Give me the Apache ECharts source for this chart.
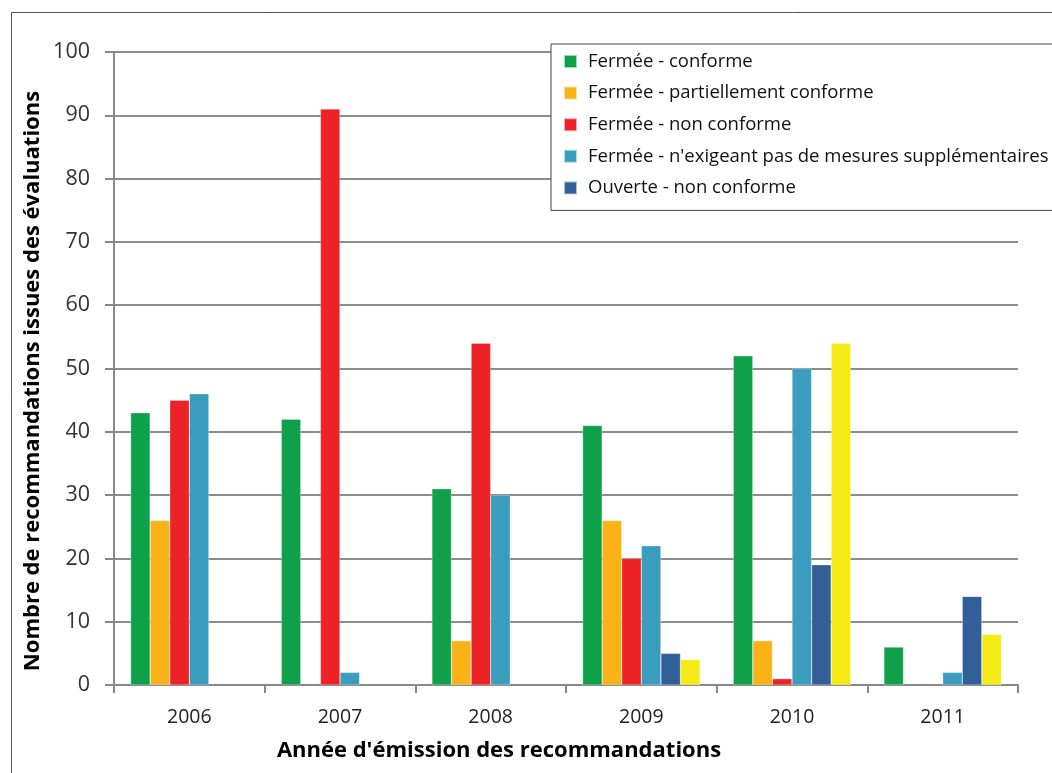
<!DOCTYPE html>
<html>
<head>
<meta charset="utf-8">
<script src="https://cdn.jsdelivr.net/npm/echarts@6/dist/echarts.min.js"></script>
<style>
  html, body { margin: 0; padding: 0; background: #fff; }
  #chart { width: 1052px; height: 773px; }
</style>
</head>
<body>
<div id="chart"></div>
<script>
// Recommendations issued per year, by follow-up status
const years = ['2006', '2007', '2008', '2009', '2010', '2011'];

const fermeeConforme      = [43, 42, 31, 41, 52, 6];
const fermeePartiellement = [26, null, 7, 26, 7, null];
const fermeeNonConforme   = [45, 91, 54, 20, 1, null];
const fermeeSansMesures   = [46, 2, 30, 22, 50, 2];
const ouverteNonConforme  = [null, null, null, 5, 19, 14];
const sixiemeStatut       = [null, null, null, 4, 54, 8];

const seriesNames = [
  'Fermée - conforme',
  'Fermée - partiellement conforme',
  'Fermée - non conforme',
  "Fermée - n'exigeant pas de mesures supplémentaires",
  'Ouverte - non conforme',
  'Autre'
];
const seriesData = [fermeeConforme, fermeePartiellement, fermeeNonConforme,
                    fermeeSansMesures, ouverteNonConforme, sixiemeStatut];
const colors = ['#0fa04a', '#fbb216', '#ec2227', '#3a9dbd', '#325f97', '#f6ea16'];

const yTicks = [0, 10, 20, 30, 40, 50, 60, 70, 80, 90, 100];

const yTitle = 'Nombre de recommandations issues des évaluations';
const xTitle = "Année d'émission des recommandations";

const chart = echarts.init(document.getElementById('chart'), null, { renderer: 'canvas' });

chart.setOption({
  animation: false,
  backgroundColor: '#ffffff',
  color: colors,
  grid: { left: 114, top: 52, right: 34, bottom: 88, containLabel: false },
  legend: {
    data: seriesNames.slice(0, 5),
    orient: 'vertical',
    left: 551,
    top: 44,
    itemWidth: 13,
    itemHeight: 13,
    itemGap: 12.6,
    padding: [8, 40, 13, 12],
    borderColor: '#444',
    borderWidth: 1,
    backgroundColor: '#fff',
    icon: 'rect',
    textStyle: { fontFamily: 'Open Sans', fontSize: 18.5, lineHeight: 19, color: '#111', padding: [0, 0, 0, 6] }
  },
  graphic: [
    {
      type: 'rect',
      shape: { x: 11.5, y: 12.5, width: 1100, height: 800 },
      style: { fill: 'none', stroke: '#555', lineWidth: 1 },
      silent: true,
      z: -1
    },
    {
      type: 'text',
      x: 33,
      y: 381,
      rotation: Math.PI / 2,
      style: {
        text: yTitle,
        fontFamily: 'Open Sans', fontWeight: 'bold', fontSize: 22, fill: '#000',
        textAlign: 'center', textVerticalAlign: 'middle'
      }
    },
    {
      type: 'text',
      x: 499,
      y: 751,
      style: {
        text: xTitle,
        fontFamily: 'Open Sans', fontWeight: 'bold', fontSize: 22, fill: '#000',
        textAlign: 'center', textVerticalAlign: 'middle'
      }
    }
  ],
  xAxis: {
    type: 'category',
    data: years,
    axisLine: { lineStyle: { color: '#888', width: 2 } },
    axisTick: { show: true, length: 8, lineStyle: { color: '#888', width: 2 } },
    axisLabel: { fontFamily: 'Open Sans', fontSize: 19.5, color: '#222', margin: 22 },
    splitLine: { show: false }
  },
  yAxis: {
    type: 'value',
    min: 0,
    max: 100,
    interval: 10,
    axisLine: { show: true, lineStyle: { color: '#888', width: 2 } },
    axisTick: { show: true, length: 9, lineStyle: { color: '#888', width: 2 } },
    axisLabel: {
      fontFamily: 'Open Sans', fontSize: 21.5, color: '#333', margin: 24,
      formatter: v => yTicks.includes(v) ? String(v) : ''
    },
    splitLine: { show: true, lineStyle: { color: '#8c8c8c', width: 2 } }
  },
  series: seriesData.map((d, i) => ({
    name: seriesNames[i],
    type: 'bar',
    data: d,
    barGap: '0%',
    barCategoryGap: '22%',
    itemStyle: { color: colors[i], borderColor: 'rgba(255,255,255,0.6)', borderWidth: 0.5 }
  }))
});
</script>
</body>
</html>
